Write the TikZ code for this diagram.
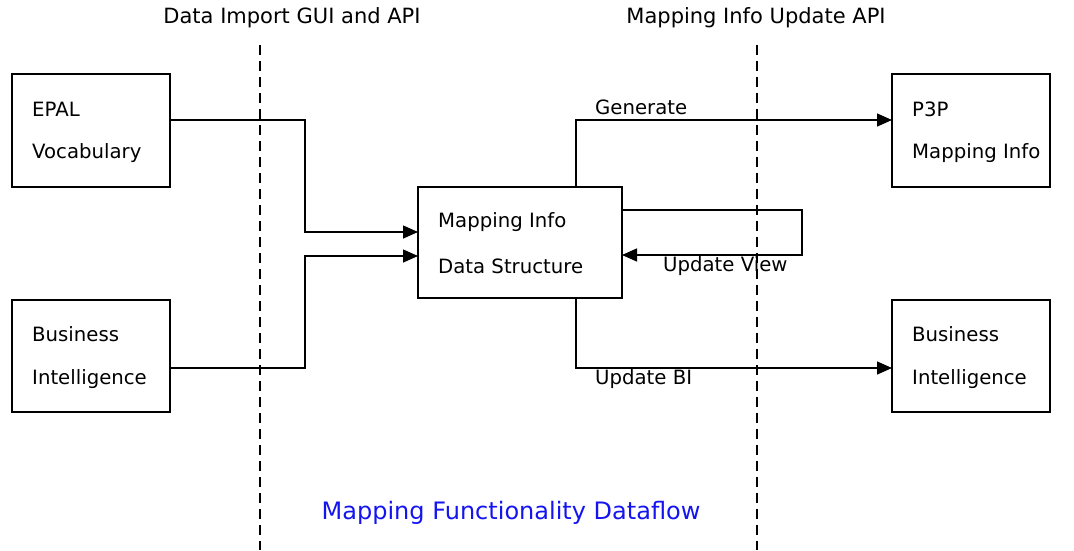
\documentclass[tikz,border=0pt]{standalone}
\usepackage{fontspec}
\setmainfont{DejaVu Sans}
\usetikzlibrary{arrows.meta}
\definecolor{titleblue}{RGB}{20,20,240}
\begin{document}
\begin{tikzpicture}[x=1pt,y=-1pt,
  lbl/.style={font=\fontsize{19.7}{22}\selectfont,inner sep=0pt,anchor=west},
  head/.style={font=\fontsize{21}{23}\selectfont,inner sep=0pt},
  flow/.style={line width=1.4pt,-{Triangle[length=15pt,width=13pt]}},
  boxline/.style={line width=1.4pt},
  sep/.style={line width=1.4pt,dash pattern=on 10pt off 6pt}]
\useasboundingbox (0,0) rectangle (1074,550);
% boxes
\draw[boxline] (12,74) rectangle (170,187);
\draw[boxline] (12,300) rectangle (170,412);
\draw[boxline] (418,187) rectangle (622,298);
\draw[boxline] (892,74) rectangle (1050,187);
\draw[boxline] (892,300) rectangle (1050,412);
\coordinate (epal) at (170,120);
\coordinate (bil) at (170,368);
\coordinate (mapin1) at (418,232);
\coordinate (mapin2) at (418,256);
\coordinate (mapout) at (622,210);
\coordinate (mapback) at (622,255);
\coordinate (maptop) at (576,187);
\coordinate (mapbot) at (576,298);
\coordinate (p3p) at (892,120);
\coordinate (bir) at (892,368);
% texts
\node[lbl] (t1) at (32,109) {EPAL};
\node[lbl] (t2) at (32,153) {Vocabulary};
\node[lbl] (t3) at (32,334) {Business};
\node[lbl] (t4) at (32,379) {Intelligence};
\node[lbl] (t5) at (438,222) {Mapping Info};
\node[lbl] (t6) at (438,266) {Data Structure};
\node[lbl] (t7) at (912,109) {P3P};
\node[lbl] (t8) at (912,153) {Mapping Info};
\node[lbl] (t9) at (912,334) {Business};
\node[lbl] (t10) at (912,379) {Intelligence};
\node[lbl] (g) at (595,107) {Generate};
\node[lbl] (uv) at (663,266) {Update View};
\node[lbl] (ub) at (595,379) {Update BI};
\node[head] (h1) at (292,18) {Data Import GUI and API};
\node[head] (h2) at (756,18) {Mapping Info Update API};
\node[font=\fontsize{24}{26}\selectfont,text=titleblue,inner sep=0pt] (title) at (511,513) {Mapping Functionality Dataflow};
% separators
\draw[sep] (260,45) -- (260,550);
\draw[sep] (757,45) -- (757,550);
% connectors
\draw[flow] (epal) -- (305,120) |- (mapin1);
\draw[flow] (bil) -- (305,368) |- (mapin2);
\draw[flow] (maptop) |- (p3p);
\draw[flow] (mapbot) |- (bir);
\draw[flow] (mapout) -- (802,210) |- (mapback);
\end{tikzpicture}
\end{document}
